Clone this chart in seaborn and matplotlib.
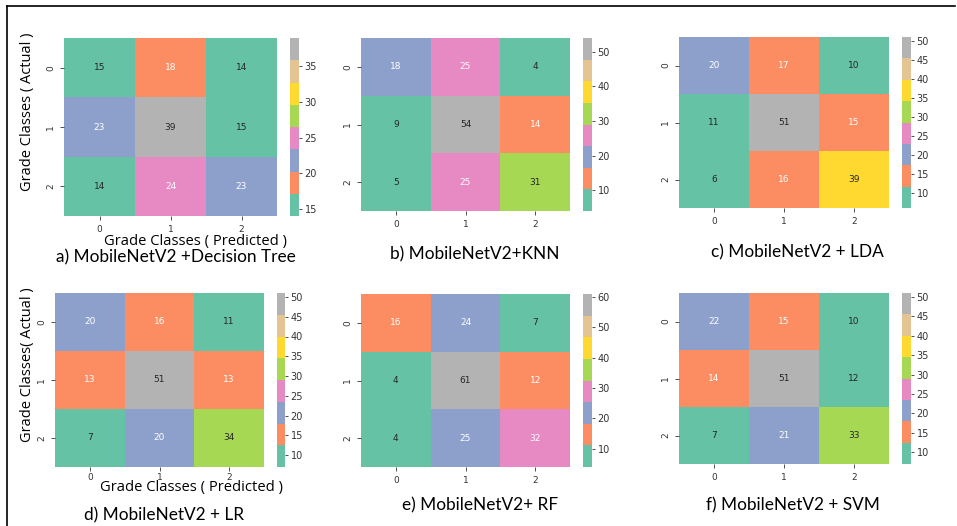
import matplotlib
matplotlib.use("Agg")
import matplotlib.pyplot as plt
import seaborn as sns
from matplotlib.lines import Line2D

# Confusion matrices (rows: actual grade class, columns: predicted grade class)
classes = ["0", "1", "2"]
cm_decision_tree = [[15, 18, 14], [23, 39, 15], [14, 24, 23]]
cm_knn = [[18, 25, 4], [9, 54, 14], [5, 25, 31]]
cm_lda = [[20, 17, 10], [11, 51, 15], [6, 16, 39]]
cm_lr = [[20, 16, 11], [13, 51, 13], [7, 20, 34]]
cm_rf = [[16, 24, 7], [4, 61, 12], [4, 25, 32]]
cm_svm = [[22, 15, 10], [14, 51, 12], [7, 21, 33]]

titles = [
    "a) MobileNetV2 +Decision Tree",
    "b) MobileNetV2+KNN",
    "c) MobileNetV2 + LDA",
    "d) MobileNetV2 + LR",
    "e) MobileNetV2+ RF",
    "f) MobileNetV2 + SVM",
]
cbar_ticks = [
    [15, 20, 25, 30, 35],
    [10, 20, 30, 40, 50],
    [10, 15, 20, 25, 30, 35, 40, 45, 50],
    [10, 15, 20, 25, 30, 35, 40, 45, 50],
    [10, 20, 30, 40, 50, 60],
    [10, 15, 20, 25, 30, 35, 40, 45, 50],
]
xlabel_text = "Grade Classes ( Predicted )"
ylabel_texts = ["Grade Classes ( Actual )", "Grade Classes( Actual )"]

matrices = [cm_decision_tree, cm_knn, cm_lda, cm_lr, cm_rf, cm_svm]

W, H = 957, 526
fig = plt.figure(figsize=(W / 100, H / 100), dpi=100)


def px_axes(x0, y0, x1, y1):
    return fig.add_axes([x0 / W, 1 - y1 / H, (x1 - x0) / W, (y1 - y0) / H])


# pixel boxes: heatmap (x0, y0, x1, y1), colorbar (x0, x1), title centre (x, y),
# axis-label centres and x tick label pad
layout = [
    dict(hm=(64, 38, 277, 216), cb=(290, 299), title=(176, 257),
         xlab=(195, 241), ylab=(28, 112), xpad=3.5),
    dict(hm=(361, 38, 570, 211), cb=(583, 592), title=(475, 254)),
    dict(hm=(679, 37, 889, 208), cb=(902, 911), title=(797, 252)),
    dict(hm=(55, 293, 264, 467), cb=(277, 285), title=(164, 515),
         xlab=(191, 488), ylab=(28, 365), xpad=1.0),
    dict(hm=(361, 294, 570, 467), cb=(583, 592), title=(480, 505)),
    dict(hm=(679, 293, 889, 464), cb=(902, 911), title=(793, 505)),
]

label_font = ["Open Sans", "DejaVu Sans"]
title_font = ["Lato", "DejaVu Sans"]

for i, (cm, lay) in enumerate(zip(matrices, layout)):
    x0, y0, x1, y1 = lay["hm"]
    ax = px_axes(x0, y0, x1, y1)
    cax = px_axes(lay["cb"][0], y0, lay["cb"][1], y1)
    sns.heatmap(
        cm, ax=ax, cbar_ax=cax, cmap="Set2", annot=True, fmt="d",
        xticklabels=classes, yticklabels=classes,
        annot_kws={"fontsize": 6.5},
    )
    ax.tick_params(labelsize=6.5, length=3, width=0.6, colors="#333333")
    cax.set_yticks(cbar_ticks[i])
    cax.tick_params(labelsize=7, length=2.5, width=0.6, colors="#333333", pad=1.5)

    if "xlab" in lay:
        ax.tick_params(axis="x", pad=lay["xpad"])
        yx, yy = lay["ylab"]
        ax.set_ylabel(ylabel_texts[0 if i == 0 else 1], fontsize=10.5,
                      family=label_font)
        ax.yaxis.label.set_va("center")
        ax.yaxis.set_label_coords(-(x0 - yx) / (x1 - x0), (y1 - yy) / (y1 - y0))
        lx, ly = lay["xlab"]
        ax.set_xlabel(xlabel_text, fontsize=10.6, family=label_font)
        ax.xaxis.label.set_va("center")
        ax.xaxis.set_label_coords((lx - x0) / (x1 - x0), -(ly - y1) / (y1 - y0))

    tx, ty = lay["title"]
    fig.text(tx / W, 1 - ty / H, titles[i], fontsize=12.4, family=title_font,
             ha="center", va="center", color="black")

# outer frame (top and left edge)
fig.add_artist(Line2D([7 / W, 955 / W], [1 - 6 / H, 1 - 6 / H], color="black", lw=1.2))
fig.add_artist(Line2D([7.5 / W, 7.5 / W], [1 - 6 / H, 0], color="black", lw=1.2))

fig.savefig("out.png", dpi=100)
